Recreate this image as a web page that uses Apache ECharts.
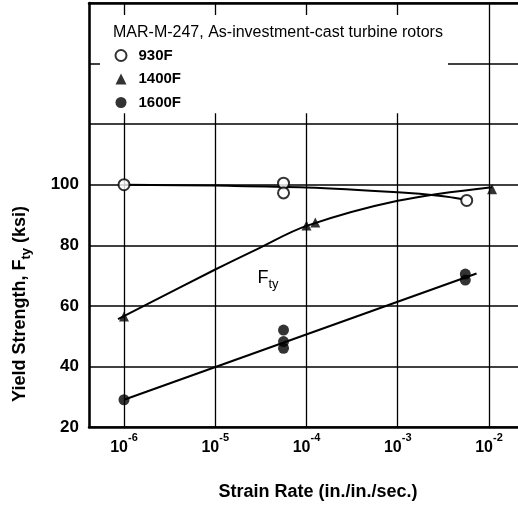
<!DOCTYPE html>
<html><head><meta charset="utf-8">
<script src="https://cdn.jsdelivr.net/npm/echarts@6/dist/echarts.min.js"></script>
<style>html,body{margin:0;padding:0;background:#fff;overflow:hidden}#c{width:524px;height:509px}</style>
</head><body><div id="c"></div>
<script>
// ---- data ----
const chartTitle = 'MAR-M-247, As-investment-cast turbine rotors';
const xAxisTitle = 'Strain Rate (in./in./sec.)';
const seriesNames = ['930F', '1400F', '1600F'];
const yTickLabels = [20, 40, 60, 80, 100];
const xTickExponents = [-6, -5, -4, -3, -2];

const pts930  = [[1.0e-6, 100], [5.6e-5, 100.5], [5.6e-5, 97.3], [5.7e-3, 94.8]];
const pts1400 = [[1.0e-6, 56.5], [1.0e-4, 86.5], [1.25e-4, 87.5], [1.08e-2, 98.5]];
const pts1600 = [[1.0e-6, 29], [5.6e-5, 52], [5.6e-5, 48.2], [5.6e-5, 46], [5.5e-3, 70.5], [5.5e-3, 68.5]];

const fit930  = [[1e-6, 100], [1e-5, 99.7], [1e-4, 99.1], [1e-3, 97.5], [3e-3, 96.3], [5e-3, 95.3]];
const fit1400 = [[8.6e-7, 55.6], [1e-5, 72], [3e-5, 79], [1e-4, 86.4], [1e-3, 94.7], [1.08e-2, 99.2]];
const fit1600 = [[1e-6, 29], [7.3e-3, 70.7]];

const ftyLabelAt = [2.9e-5, 68.5];

// ---- chart ----
const FONT = "'Liberation Sans', Arial, sans-serif";
const chart = echarts.init(document.getElementById('c'), null, {renderer: 'canvas'});

const xMin = Math.pow(10, -6.3836), xMax = Math.pow(10, -1.6164);

function fitSeries(data) {
  return {type: 'line', data: data, symbol: 'none', smooth: 0.35, silent: true,
    lineStyle: {color: '#000', width: 2}, z: 3};
}

chart.setOption({
  animation: false,
  backgroundColor: '#fff',
  title: {text: chartTitle, left: 113, top: 25, padding: 0,
    textStyle: {fontSize: 16, fontWeight: 'normal', fontFamily: FONT, color: '#000'}},
  legend: {data: seriesNames, orient: 'vertical', left: 114.5, top: 48, padding: 0,
    itemWidth: 11, itemHeight: 11, itemGap: 8.5,
    textStyle: {fontSize: 15, fontWeight: 'bold', fontFamily: FONT, color: '#000', padding: [0, 0, 0, 7]}},
  grid: {left: 89, right: 0, top: 3, bottom: 82},
  xAxis: [{type: 'log', logBase: 10, min: xMin, max: xMax,
    axisLine: {lineStyle: {color: '#000', width: 2.5}},
    axisTick: {show: false},
    splitLine: {show: true, lineStyle: {color: '#000', width: 1.3}},
    axisLabel: {showMinLabel: false, showMaxLabel: false, margin: 5, color: '#000',
      formatter: function (v) {
        const l = Math.log10(v), e = Math.round(l);
        if (Math.abs(l - e) > 1e-6 || xTickExponents.indexOf(e) < 0) return '';
        return '{b|10}{s|' + e + '}';
      },
      rich: {
        b: {fontSize: 16, fontWeight: 'bold', fontFamily: FONT, color: '#000', lineHeight: 24, verticalAlign: 'bottom'},
        s: {fontSize: 11, fontWeight: 'bold', fontFamily: FONT, color: '#000', lineHeight: 11, verticalAlign: 'top'}
      }}
  }, {type: 'log', logBase: 10, min: xMin, max: xMax, position: 'top',
    axisLine: {show: true, lineStyle: {color: '#000', width: 2.5}},
    axisTick: {show: false}, axisLabel: {show: false}, splitLine: {show: false}
  }],
  yAxis: {type: 'value', min: 20, max: 160, interval: 20,
    axisLine: {show: true, lineStyle: {color: '#000', width: 2.5}},
    axisTick: {show: false},
    splitLine: {show: true, lineStyle: {color: '#000', width: 1.5}},
    axisLabel: {margin: 10, color: '#000', fontSize: 17, fontWeight: 'bold', fontFamily: FONT,
      formatter: function (v) { return yTickLabels.indexOf(v) >= 0 ? String(v) : ''; }}
  },
  series: [
    fitSeries(fit930), fitSeries(fit1400), fitSeries(fit1600),
    {name: seriesNames[0], type: 'scatter', data: pts930, symbol: 'circle', symbolSize: 11, z: 4,
      itemStyle: {color: '#fff', borderColor: '#000', borderWidth: 2}},
    {name: seriesNames[1], type: 'scatter', data: pts1400, symbol: 'triangle', symbolSize: 10, z: 4,
      itemStyle: {color: '#000'}},
    {name: seriesNames[2], type: 'scatter', data: pts1600, symbol: 'circle', symbolSize: 11, z: 4,
      itemStyle: {color: '#000'}}
  ]
});

// decorative elements placed through the axes
const xL = chart.convertToPixel({xAxisIndex: 0}, xMin);
const x2 = chart.convertToPixel({xAxisIndex: 0}, 1e-2);
const yTop = chart.convertToPixel({yAxisIndex: 0}, 160);
const y120 = chart.convertToPixel({yAxisIndex: 0}, 120);
const fty = chart.convertToPixel({xAxisIndex: 0, yAxisIndex: 0}, ftyLabelAt);

chart.setOption({
  graphic: [
    {type: 'rect', z: 1, silent: true,
      shape: {x: xL + 11, y: yTop + 12, width: (x2 - 41) - (xL + 11), height: (y120 - 11) - (yTop + 12)},
      style: {fill: '#fff'}},
    {type: 'text', z: 5, x: 318, y: 492, silent: true,
      style: {text: xAxisTitle, fontSize: 18, fontWeight: 'bold', fontFamily: FONT, fill: '#000',
        align: 'center', verticalAlign: 'middle'}},
    {type: 'text', z: 5, x: 22, y: 304, rotation: Math.PI / 2, silent: true,
      style: {text: '{a|Yield Strength, F}{s|ty}{a| (ksi)}', align: 'center', verticalAlign: 'middle',
        rich: {
          a: {fontSize: 18, fontWeight: 'bold', fontFamily: FONT, fill: '#000', lineHeight: 22, verticalAlign: 'top'},
          s: {fontSize: 13, fontWeight: 'bold', fontFamily: FONT, fill: '#000', lineHeight: 13, padding: [13, 0, 0, 0], verticalAlign: 'bottom'}
        }}},
    {type: 'text', z: 5, x: fty[0], y: fty[1], silent: true,
      style: {text: '{f|F}{s|ty}', align: 'left', verticalAlign: 'middle',
        rich: {
          f: {fontSize: 18, fontFamily: FONT, fill: '#000', lineHeight: 22, verticalAlign: 'top'},
          s: {fontSize: 13, fontFamily: FONT, fill: '#000', lineHeight: 13, padding: [13, 0, 0, 0], verticalAlign: 'bottom'}
        }}}
  ]
});
</script>
</body></html>
